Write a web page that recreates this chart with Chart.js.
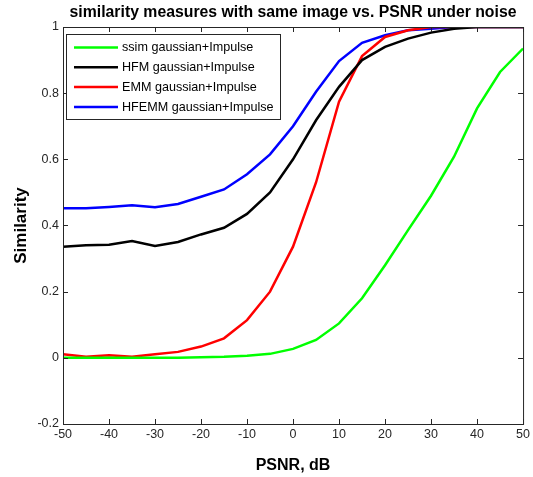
<!DOCTYPE html>
<html>
<head>
<meta charset="utf-8">
<script src="https://cdn.jsdelivr.net/npm/chart.js@4"></script>
<style>
  html, body { margin: 0; padding: 0; background: #fff; }
  #wrap { width: 533px; height: 477px; }
</style>
</head>
<body>
<div id="wrap"><canvas id="chart" width="533" height="477"></canvas></div>
<script>
const psnr = [-50, -45, -40, -35, -30, -25, -20, -15, -10, -5, 0, 5, 10, 15, 20, 25, 30, 35, 40, 45, 50];

const ssimVals = [0.0, 0.0, 0.0, 0.0, 0.0, 0.0, 0.002, 0.003, 0.006, 0.012, 0.027, 0.054, 0.104, 0.18, 0.28, 0.386, 0.49, 0.608, 0.754, 0.864, 0.935];
const hfmVals = [0.336, 0.34, 0.342, 0.353, 0.338, 0.35, 0.373, 0.393, 0.435, 0.5, 0.6, 0.718, 0.819, 0.9, 0.94, 0.965, 0.983, 0.995, 1.0, 1.0, 1.0];
const emmVals = [0.011, 0.003, 0.008, 0.003, 0.011, 0.018, 0.034, 0.059, 0.114, 0.2, 0.336, 0.53, 0.774, 0.912, 0.97, 0.99, 1.0, 1.0, 1.0, 1.0, 1.0];
const hfemmVals = [0.452, 0.452, 0.456, 0.461, 0.455, 0.465, 0.487, 0.509, 0.555, 0.615, 0.7, 0.804, 0.897, 0.952, 0.975, 0.99, 0.995, 1.0, 1.0, 1.0, 1.0];

const seriesNames = ["ssim gaussian+Impulse", "HFM gaussian+Impulse", "EMM gaussian+Impulse", "HFEMM gaussian+Impulse"];
const seriesColors = ["#00ff00", "#000000", "#ff0000", "#0000ff"];
const xTicks = [-50, -40, -30, -20, -10, 0, 10, 20, 30, 40, 50];
const yTicks = [-0.2, 0, 0.2, 0.4, 0.6, 0.8, 1];
const chartTitle = "similarity measures with same image vs. PSNR under noise";

const FONT = "'Liberation Sans', Arial, Helvetica, sans-serif";
const AXIS = "#262626";

function pts(vals) {
  return vals.map((v, i) => ({ x: psnr[i], y: v }));
}

// matlab style box with inward ticks on all four sides, legend and title
const boxPlugin = {
  id: "box",
  afterDatasetsDraw(c) {
    const { ctx, chartArea: a, scales } = c;
    ctx.save();
    ctx.strokeStyle = AXIS;
    ctx.lineWidth = 1;
    ctx.strokeRect(a.left + 0.5, a.top + 0.5, a.right - a.left, a.bottom - a.top);
    ctx.beginPath();
    xTicks.forEach((t) => {
      const px = Math.round(scales.x.getPixelForValue(t)) + 0.5;
      ctx.moveTo(px, a.bottom); ctx.lineTo(px, a.bottom - 5);
      ctx.moveTo(px, a.top); ctx.lineTo(px, a.top + 5);
    });
    yTicks.forEach((t) => {
      const py = Math.round(scales.y.getPixelForValue(t)) + 0.5;
      ctx.moveTo(a.left, py); ctx.lineTo(a.left + 5, py);
      ctx.moveTo(a.right, py); ctx.lineTo(a.right - 5, py);
    });
    ctx.stroke();

    // title, centred over the plot box
    ctx.fillStyle = "#000";
    ctx.font = "bold 15.8px " + FONT;
    ctx.textAlign = "center";
    ctx.textBaseline = "middle";
    ctx.fillText(chartTitle, (a.left + a.right) / 2, 13);

    // legend
    const lx = a.left + 3, ly = a.top + 7, lw = 214, lh = 85;
    ctx.fillStyle = "#fff";
    ctx.fillRect(lx, ly, lw, lh);
    ctx.strokeStyle = "#262626";
    ctx.strokeRect(lx + 0.5, ly + 0.5, lw, lh);
    ctx.font = "12.6px " + FONT;
    ctx.textAlign = "left";
    c.data.datasets.forEach((ds, i) => {
      const yy = ly + 13.5 + i * 19.8;
      ctx.strokeStyle = ds.borderColor;
      ctx.lineWidth = 2.5;
      ctx.beginPath();
      ctx.moveTo(lx + 8, yy); ctx.lineTo(lx + 52, yy);
      ctx.stroke();
      ctx.fillStyle = "#000";
      ctx.fillText(ds.label, lx + 56, yy + 0.5);
    });
    ctx.restore();
  },
};

new Chart(document.getElementById("chart"), {
  type: "line",
  data: {
    datasets: seriesNames.map((name, i) => ({
      label: name,
      data: pts([ssimVals, hfmVals, emmVals, hfemmVals][i]),
      borderColor: seriesColors[i],
      backgroundColor: seriesColors[i],
      borderWidth: 2.5,
      pointRadius: 0,
      tension: 0,
    })),
  },
  options: {
    responsive: false,
    animation: false,
    layout: { padding: { left: 11, right: 9, top: 27, bottom: 2 } },
    plugins: {
      legend: { display: false },
      tooltip: { enabled: false },
      title: { display: false },
    },
    scales: {
      x: {
        type: "linear",
        min: -50,
        max: 50,
        afterBuildTicks: (s) => { s.ticks = xTicks.map((v) => ({ value: v })); },
        ticks: { color: AXIS, font: { family: FONT, size: 12.5 }, padding: 3, maxRotation: 0 },
        grid: { display: false, drawTicks: false },
        border: { display: false },
        title: {
          display: true,
          text: "PSNR, dB",
          color: "#000",
          font: { family: FONT, size: 16, weight: "bold" },
          padding: { top: 6, bottom: 0 },
        },
        afterFit: (s) => { s.height = 51; },
      },
      y: {
        min: -0.2,
        max: 1,
        afterBuildTicks: (s) => { s.ticks = yTicks.map((v) => ({ value: v })); },
        ticks: {
          color: AXIS,
          font: { family: FONT, size: 12.5 },
          padding: 4,
          callback: (v) => String(Math.round(v * 10) / 10),
        },
        grid: { display: false, drawTicks: false },
        border: { display: false },
        title: {
          display: true,
          text: "Similarity",
          color: "#000",
          font: { family: FONT, size: 17, weight: "bold" },
          padding: { top: 0, bottom: 6 },
        },
        afterFit: (s) => { s.width = 52; },
      },
    },
  },
  plugins: [boxPlugin],
});
</script>
</body>
</html>
